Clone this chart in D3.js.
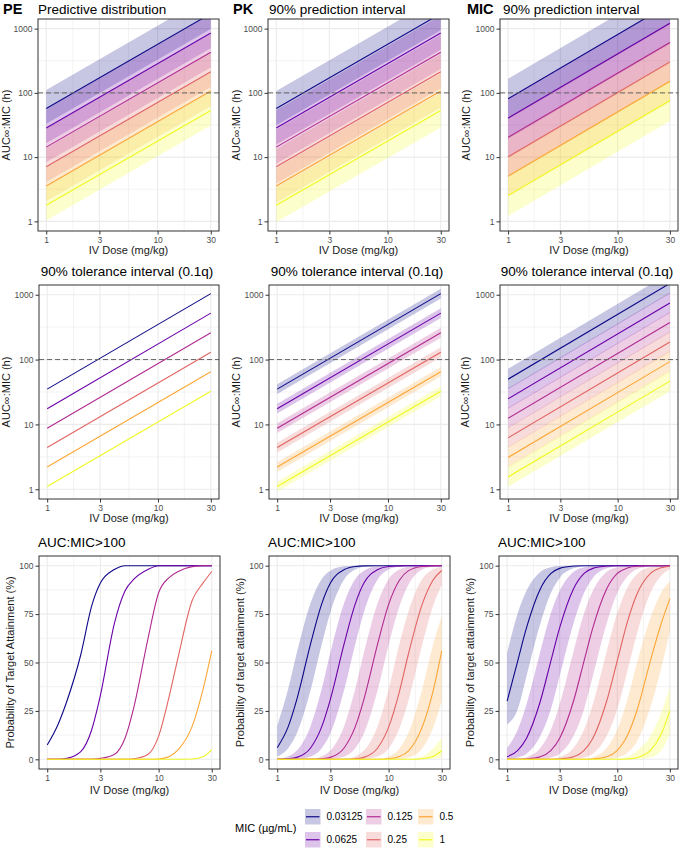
<!DOCTYPE html>
<html>
<head>
<meta charset="utf-8">
<script src="https://d3js.org/d3.v7.min.js"></script>
<style>
	body { margin: 0; background: #ffffff; }
	text { font-family: "Liberation Sans", Arial, sans-serif; }
</style>
</head>
<body>
<svg id="chart" width="685" height="848"></svg>
<script>
// ---- values ----
var micLabels = ['0.03125', '0.0625', '0.125', '0.25', '0.5', '1'];

// AUC:MIC rows are straight lines on log-log axes, so the value at dose 1 and dose 30 is enough
var doseEnds = [1, 30];

// top row: 90% intervals
var pePredMid  = [[57, 1710], [28.5, 855], [14.3, 428], [7.1, 214], [3.55, 107], [1.78, 53]];
var pePredLow  = [[33, 990], [16.5, 496], [8.3, 248], [4.1, 124], [2.06, 62], [1.03, 31]];
var pePredHigh = [[111, 3330], [55.6, 1670], [27.9, 835], [13.8, 417], [6.9, 209], [3.47, 104]];

var pkPredMid  = [[57, 1710], [28.5, 855], [14.3, 428], [7.1, 214], [3.55, 107], [1.78, 53]];
var pkPredLow  = [[31.4, 940], [15.7, 470], [7.9, 235], [3.9, 118], [1.95, 59], [0.98, 29]];
var pkPredHigh = [[107, 3210], [53.6, 1610], [26.9, 805], [13.3, 402], [6.7, 201], [3.35, 100]];

var micPredMid  = [[81, 2430], [40.5, 1215], [20.3, 608], [10.1, 304], [5.06, 152], [2.53, 76]];
var micPredLow  = [[38.9, 1166], [19.4, 583], [9.7, 292], [4.85, 146], [2.43, 73], [1.21, 36.5]];
var micPredHigh = [[166, 4980], [83, 2490], [41.6, 1246], [20.7, 623], [10.4, 312], [5.19, 156]];

// middle row: 90% tolerance intervals (0.1 quantile)
var peTolMid = [[35, 1040], [17.5, 520], [8.75, 260], [4.4, 130], [2.2, 65], [1.1, 32.5]];

var pkTolMid  = [[35, 1040], [17.5, 520], [8.75, 260], [4.4, 130], [2.2, 65], [1.1, 32.5]];
var pkTolLow  = [[29.4, 874], [14.7, 437], [7.35, 218], [3.7, 109], [1.85, 54.6], [0.92, 27.3]];
var pkTolHigh = [[41.7, 1238], [20.8, 619], [10.4, 309], [5.2, 155], [2.6, 77], [1.31, 38.7]];

var micTolMid  = [[49.8, 1494], [24.9, 747], [12.45, 374], [6.2, 187], [3.1, 93], [1.55, 46.5]];
var micTolLow  = [[34.9, 1046], [17.4, 523], [8.7, 262], [4.35, 131], [2.17, 65], [1.09, 32.6]];
var micTolHigh = [[72, 2170], [36, 1080], [18, 542], [9, 271], [4.5, 135], [2.25, 67.4]];

// bottom row: probability of target attainment (%) at these doses
var ptaDose = [1, 1.25, 1.5, 2, 2.5, 3, 4, 5, 6, 8, 10, 12.5, 15, 20, 25, 30];

var pePtaMid = [
	[7.4, 18, 30, 54, 79, 91, 98, 100, 100, 100, 100, 100, 100, 100, 100, 100],
	[0, 0, 0.5, 4, 15, 33, 70, 87, 93, 98, 100, 100, 100, 100, 100, 100],
	[0, 0, 0, 0, 0, 0.5, 2.5, 11, 27, 62, 86, 94, 97, 99.5, 100, 100],
	[0, 0, 0, 0, 0, 0, 0, 0, 0.3, 2.5, 12, 33, 53, 82, 91, 97],
	[0, 0, 0, 0, 0, 0, 0, 0, 0, 0, 0.2, 1.5, 5, 17, 36, 56],
	[0, 0, 0, 0, 0, 0, 0, 0, 0, 0, 0, 0, 0, 0.2, 1.3, 5]
];

var pkPtaMid = [
	[6, 16.6, 31, 60, 80, 91, 98, 99.6, 99.9, 100, 100, 100, 100, 100, 100, 100],
	[0, 0.3, 1, 6, 16.6, 31, 60, 80, 91, 98, 99.6, 99.9, 100, 100, 100, 100],
	[0, 0, 0, 0, 0.3, 1, 6, 16.6, 31, 60, 80, 92.5, 97.3, 99.6, 99.9, 100],
	[0, 0, 0, 0, 0, 0, 0, 0.3, 1, 6, 16.6, 35, 54, 80, 92.5, 97.5],
	[0, 0, 0, 0, 0, 0, 0, 0, 0, 0, 0.3, 1.4, 4.2, 16.6, 35, 56],
	[0, 0, 0, 0, 0, 0, 0, 0, 0, 0, 0, 0, 0, 0.3, 1.4, 4.4]
];
var pkPtaLow = [
	[1.5, 5.6, 13.4, 36, 59, 76, 93, 98, 99.4, 99.9, 100, 100, 100, 100, 100, 100],
	[0, 0, 0.2, 1.5, 5.6, 13.4, 36, 59, 76, 93, 98, 99.6, 99.9, 100, 100, 100],
	[0, 0, 0, 0, 0, 0.2, 1.5, 5.6, 13.4, 36, 59, 79, 90, 98, 99.6, 99.9],
	[0, 0, 0, 0, 0, 0, 0, 0, 0.2, 1.5, 5.6, 16, 30, 59, 79, 90],
	[0, 0, 0, 0, 0, 0, 0, 0, 0, 0, 0, 0.2, 0.9, 5.6, 16, 30],
	[0, 0, 0, 0, 0, 0, 0, 0, 0, 0, 0, 0, 0, 0, 0.2, 0.9]
];
var pkPtaHigh = [
	[17.4, 36, 55, 81, 93, 97.4, 99.7, 100, 100, 100, 100, 100, 100, 100, 100, 100],
	[0.3, 1.5, 4.5, 17.4, 36, 55, 81, 93, 97.4, 99.7, 100, 100, 100, 100, 100, 100],
	[0, 0, 0, 0.3, 1.5, 4.5, 17.4, 36, 55, 81, 93, 98, 99.4, 100, 100, 100],
	[0, 0, 0, 0, 0, 0, 0.3, 1.5, 4.5, 17.4, 36, 59.5, 76, 93, 98, 99.4],
	[0, 0, 0, 0, 0, 0, 0, 0, 0, 0.3, 1.5, 5.6, 13.4, 36, 59, 74],
	[0, 0, 0, 0, 0, 0, 0, 0, 0, 0, 0, 0, 0.2, 1.5, 5.6, 11]
];

var micPtaMid = [
	[30, 51, 68, 88, 96, 98.6, 99.8, 100, 100, 100, 100, 100, 100, 100, 100, 100],
	[1.3, 4.6, 10.9, 30, 51, 68, 88, 96, 98.6, 99.8, 100, 100, 100, 100, 100, 100],
	[0, 0, 0.2, 1.3, 4.6, 10.9, 30, 51, 68, 88, 96, 98.9, 99.7, 100, 100, 100],
	[0, 0, 0, 0, 0, 0.2, 1.3, 4.6, 10.9, 30, 51, 72, 85, 96, 98.9, 99.7],
	[0, 0, 0, 0, 0, 0, 0, 0, 0.2, 1.3, 4.6, 12.9, 24.8, 51, 70, 83],
	[0, 0, 0, 0, 0, 0, 0, 0, 0, 0, 0, 0.2, 0.8, 4.6, 12.9, 25]
];
var micPtaLow = [
	[18, 26, 43, 70, 86, 93.7, 98.7, 99.7, 100, 100, 100, 100, 100, 100, 100, 100],
	[0.2, 1, 2.9, 12, 26, 43, 70, 86, 93.7, 98.7, 99.7, 100, 100, 100, 100, 100],
	[0, 0, 0, 0.2, 1, 2.9, 12, 26, 43, 70, 86, 94.8, 98.1, 99.7, 100, 100],
	[0, 0, 0, 0, 0, 0, 0.2, 1, 2.9, 12, 26, 46.8, 64.4, 86, 94.8, 98.1],
	[0, 0, 0, 0, 0, 0, 0, 0, 0, 0.2, 1, 3.7, 9, 27, 47, 66],
	[0, 0, 0, 0, 0, 0, 0, 0, 0, 0, 0, 0, 0, 1, 4.5, 13]
];
var micPtaHigh = [
	[55, 75.5, 87, 96.8, 99.2, 99.8, 100, 100, 100, 100, 100, 100, 100, 100, 100, 100],
	[5.8, 15.4, 28.4, 55.6, 75.5, 87, 96.8, 99.2, 99.8, 100, 100, 100, 100, 100, 100, 100],
	[0.05, 0.3, 1.1, 5.8, 15.4, 28.4, 55.6, 75.5, 87, 96.8, 99.2, 99.8, 100, 100, 100, 100],
	[0, 0, 0, 0, 0.3, 1.1, 5.8, 15.4, 28.4, 55.6, 75.5, 89.3, 95.4, 99.2, 99.8, 100],
	[0, 0, 0, 0, 0, 0, 0, 0.3, 1.1, 5.8, 15.4, 31.9, 49.2, 73, 86, 92],
	[0, 0, 0, 0, 0, 0, 0, 0, 0, 0, 0.3, 1.5, 4.2, 12, 24, 37]
];

var doseTicks = [1, 3, 10, 30];
var aucTicks = [1, 10, 100, 1000];
var ptaTicks = [0, 25, 50, 75, 100];
var targetAuc = 100;

var params = {};

function defineParams(){
	params.colors = ['#0D0887', '#6A00A8', '#B12A90', '#E16462', '#FCA636', '#F0F921'];
	params.fillOpacity = 0.23;
	params.gridColor = '#EBEBEB';
	params.borderColor = '#333333';
	params.tickTextColor = '#4D4D4D';

	// ggplot style 5% expansion on the log scales
	var lx = Math.log10(30) * 0.05;
	params.xDomain = [Math.pow(10, -lx), Math.pow(10, Math.log10(30) + lx)];
	params.aucDomain = [Math.pow(10, -0.15), Math.pow(10, 3.15)];
	params.ptaDomain = [-5, 105];

	var aucLab = 'AUC\u221E:MIC (h)';
	params.panels = [
		{kind:'auc', left:38, right:219, top:19, bottom:231, tag:'PE', tagX:3, title:'Predictive distribution', titleX:38, ylab:aucLab, ylabX:6,
			mid:pePredMid, low:pePredLow, high:pePredHigh},
		{kind:'auc', left:268, right:449, top:19, bottom:231, tag:'PK', tagX:233, title:'90% prediction interval', titleX:269, ylab:aucLab, ylabX:236,
			mid:pkPredMid, low:pkPredLow, high:pkPredHigh},
		{kind:'auc', left:500, right:678, top:19, bottom:231, tag:'MIC', tagX:467, title:'90% prediction interval', titleX:503, ylab:aucLab, ylabX:466,
			mid:micPredMid, low:micPredLow, high:micPredHigh},
		{kind:'auc', left:39, right:219, top:285, bottom:499, title:'90% tolerance interval (0.1q)', center:true, ylab:aucLab, ylabX:6,
			mid:peTolMid},
		{kind:'auc', left:269, right:449, top:285, bottom:499, title:'90% tolerance interval (0.1q)', center:true, ylab:aucLab, ylabX:236,
			mid:pkTolMid, low:pkTolLow, high:pkTolHigh},
		{kind:'auc', left:500, right:678, top:285, bottom:499, title:'90% tolerance interval (0.1q)', center:true, ylab:aucLab, ylabX:465,
			mid:micTolMid, low:micTolLow, high:micTolHigh},
		{kind:'pta', left:39, right:220, top:556, bottom:769, title:'AUC:MIC>100', titleX:38, ylab:'Probability of Target Attainment (%)', ylabX:10,
			mid:pePtaMid},
		{kind:'pta', left:269, right:450, top:556, bottom:769, title:'AUC:MIC>100', titleX:268, ylab:'Probability of target attainment (%)', ylabX:240,
			mid:pkPtaMid, low:pkPtaLow, high:pkPtaHigh},
		{kind:'pta', left:499, right:678, top:556, bottom:769, title:'AUC:MIC>100', titleX:498, ylab:'Probability of target attainment (%)', ylabX:470,
			mid:micPtaMid, low:micPtaLow, high:micPtaHigh}
	];
}

//zip a dose vector with value rows into point objects
function toPoints(doses, mid, low, high){
	return doses.map(function(d, j){
		return {dose:d, mid:mid ? mid[j] : null, low:low ? low[j] : null, high:high ? high[j] : null};
	});
}

function drawPanel(svg, p, i){
	var isPta = p.kind == 'pta';
	var xScale = d3.scaleLog().domain(params.xDomain).range([p.left, p.right]);
	var yScale = isPta
		? d3.scaleLinear().domain(params.ptaDomain).range([p.bottom, p.top])
		: d3.scaleLog().domain(params.aucDomain).range([p.bottom, p.top]);
	var doses = isPta ? ptaDose : doseEnds;

	var g = svg.append('g').attr('class', 'panel');

	g.append('rect')
		.attr('x', p.left).attr('y', p.top)
		.attr('width', p.right - p.left).attr('height', p.bottom - p.top)
		.attr('fill', '#ffffff');

	// grid: minor first then major
	var xMinor = [Math.sqrt(3), Math.sqrt(30), Math.sqrt(300)];
	var yMinor = isPta ? [12.5, 37.5, 62.5, 87.5] : [Math.sqrt(10), Math.sqrt(1000), Math.sqrt(100000)];
	var yMajor = isPta ? ptaTicks : aucTicks;
	function vlines(vals, w){
		g.selectAll(null).data(vals).enter().append('line')
			.attr('x1', function(d){ return xScale(d); }).attr('x2', function(d){ return xScale(d); })
			.attr('y1', p.top).attr('y2', p.bottom)
			.attr('stroke', params.gridColor).attr('stroke-width', w);
	}
	function hlines(vals, w){
		g.selectAll(null).data(vals).enter().append('line')
			.attr('y1', function(d){ return yScale(d); }).attr('y2', function(d){ return yScale(d); })
			.attr('x1', p.left).attr('x2', p.right)
			.attr('stroke', params.gridColor).attr('stroke-width', w);
	}
	vlines(xMinor, 0.6); hlines(yMinor, 0.6);
	vlines(doseTicks, 1.1); hlines(yMajor, 1.1);

	// clip the marks to the panel
	svg.append('clipPath').attr('id', 'clip' + i)
		.append('rect')
			.attr('x', p.left).attr('y', p.top)
			.attr('width', p.right - p.left).attr('height', p.bottom - p.top);
	var marks = g.append('g').attr('clip-path', 'url(#clip' + i + ')');

	var curve = isPta ? d3.curveMonotoneX : d3.curveLinear;

	if (p.low){
		var area = d3.area()
			.x(function(d){ return xScale(d.dose); })
			.y0(function(d){ return yScale(d.low); })
			.y1(function(d){ return yScale(d.high); })
			.curve(curve);
		p.mid.forEach(function(row, k){
			marks.append('path')
				.datum(toPoints(doses, row, p.low[k], p.high[k]))
				.attr('d', area)
				.attr('fill', params.colors[k])
				.attr('fill-opacity', params.fillOpacity)
				.attr('stroke', 'none');
		});
	}

	var line = d3.line()
		.x(function(d){ return xScale(d.dose); })
		.y(function(d){ return yScale(d.mid); })
		.curve(curve);
	p.mid.forEach(function(row, k){
		marks.append('path')
			.datum(toPoints(doses, row))
			.attr('d', line)
			.attr('fill', 'none')
			.attr('stroke', params.colors[k])
			.attr('stroke-width', 1.1);
	});

	if (!isPta){
		marks.append('line')
			.attr('x1', p.left).attr('x2', p.right)
			.attr('y1', yScale(targetAuc)).attr('y2', yScale(targetAuc))
			.attr('stroke', '#666666')
			.attr('stroke-width', 1)
			.attr('stroke-dasharray', '5,3');
	}

	// border
	g.append('rect')
		.attr('x', p.left).attr('y', p.top)
		.attr('width', p.right - p.left).attr('height', p.bottom - p.top)
		.attr('fill', 'none')
		.attr('stroke', params.borderColor)
		.attr('stroke-width', 1);

	// axes
	var xAxis = g.append('g')
		.attr('transform', 'translate(0,' + p.bottom + ')')
		.call(d3.axisBottom(xScale).tickValues(doseTicks).tickFormat(d3.format('d')).tickSize(3.5).tickPadding(2));
	var yAxis = g.append('g')
		.attr('transform', 'translate(' + p.left + ',0)')
		.call(d3.axisLeft(yScale).tickValues(yMajor).tickFormat(d3.format('d')).tickSize(3.5).tickPadding(2));
	[xAxis, yAxis].forEach(function(ax){
		ax.select('.domain').remove();
		ax.selectAll('.tick line').attr('stroke', params.borderColor);
		ax.selectAll('.tick text')
			.attr('fill', params.tickTextColor)
			.style('font-size', '8.5px')
			.style('font-family', '"Liberation Sans", Arial, sans-serif');
	});

	// axis titles
	g.append('text')
		.attr('x', (p.left + p.right) / 2)
		.attr('y', p.bottom + (isPta ? 25 : 22.5))
		.attr('text-anchor', 'middle')
		.style('font-size', '11px')
		.attr('fill', '#1a1a1a')
		.text('IV Dose (mg/kg)');
	g.append('text')
		.attr('transform', 'translate(' + p.ylabX + ',' + ((p.top + p.bottom) / 2) + ') rotate(-90)')
		.attr('text-anchor', 'middle')
		.attr('dy', '0.35em')
		.style('font-size', '11px')
		.attr('fill', '#1a1a1a')
		.text(p.ylab);

	// titles
	if (p.tag){
		g.append('text')
			.attr('x', p.tagX).attr('y', 13.5)
			.style('font-size', '14.5px').style('font-weight', 'bold')
			.text(p.tag);
	}
	if (p.center){
		g.append('text')
			.attr('x', (p.left + p.right) / 2 - 2).attr('y', p.top - 9)
			.attr('text-anchor', 'middle')
			.style('font-size', '13.5px')
			.text(p.title);
	} else {
		g.append('text')
			.attr('x', p.titleX).attr('y', p.tag ? 13.5 : p.top - 9)
			.style('font-size', '13.5px')
			.text(p.title);
	}
}

function drawLegend(svg){
	var lg = svg.append('g').attr('class', 'legend');
	var keySize = 15.5;
	var colX = [305, 366, 418];
	var rowY = [809, 832];

	lg.append('text')
		.attr('x', 235).attr('y', 828)
		.attr('dy', '0.35em')
		.style('font-size', '11px')
		.text('MIC (\u00B5g/mL)');

	micLabels.forEach(function(lab, k){
		var x = colX[Math.floor(k / 2)];
		var y = rowY[k % 2];
		lg.append('rect')
			.attr('x', x).attr('y', y)
			.attr('width', keySize).attr('height', keySize)
			.attr('fill', params.colors[k])
			.attr('fill-opacity', params.fillOpacity);
		lg.append('line')
			.attr('x1', x + 1).attr('x2', x + keySize - 1)
			.attr('y1', y + keySize / 2).attr('y2', y + keySize / 2)
			.attr('stroke', params.colors[k])
			.attr('stroke-width', 1.2);
		lg.append('text')
			.attr('x', x + keySize + 6).attr('y', y + keySize / 2)
			.attr('dy', '0.35em')
			.style('font-size', '10px')
			.text(lab);
	});
}

function init(){
	defineParams();
	var svg = d3.select('#chart');
	params.panels.forEach(function(p, i){
		drawPanel(svg, p, i);
	});
	drawLegend(svg);
}

init();
</script>
</body>
</html>
